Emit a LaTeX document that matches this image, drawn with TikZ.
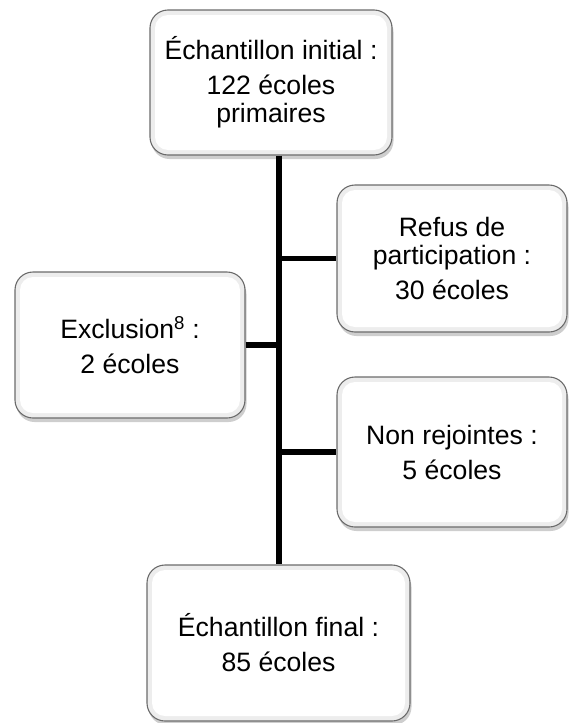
\documentclass[tikz,border=0pt]{standalone}
\usepackage{fontspec}
\setmainfont{Liberation Sans}
\usetikzlibrary{shadows}
\tikzset{
  box/.style={
    draw=black!58, line width=1.1pt, fill=black!7,
    rounded corners=18pt, inner sep=0pt, align=center,
    font=\fontsize{26.6}{28}\selectfont,
    drop shadow={shadow xshift=1.5pt, shadow yshift=-4pt, opacity=0.35, fill=black!55},
    path picture={
      \fill[white, rounded corners=13pt]
        ([shift={(5pt,-5pt)}]path picture bounding box.north west) rectangle
        ([shift={(-5pt,5pt)}]path picture bounding box.south east);
    }
  },
  link/.style={line width=5.5pt, black}
}
\begin{document}
\begin{tikzpicture}[x=1pt, y=-1pt]
\useasboundingbox (0,0) rectangle (569,723);
\coordinate (spine) at (279,0);
\node[box, minimum width=242pt, minimum height=145pt] (top) at (271,82.5)
  {Échantillon initial :\\[7pt] 122 écoles\\ primaires};
\node[box, minimum width=230pt, minimum height=147pt] (refus) at (452,258.5)
  {Refus de\\ participation :\\[7pt] 30 écoles};
\node[box, minimum width=230pt, minimum height=146pt] (excl) at (130,345)
  {Exclusion\textsuperscript{8} :\\[7pt] 2 écoles};
\node[box, minimum width=230pt, minimum height=150pt] (nonrej) at (452,452)
  {Non rejointes :\\[7pt] 5 écoles};
\node[box, minimum width=263pt, minimum height=156pt] (final) at (278.5,643)
  {Échantillon final :\\[7pt] 85 écoles};
\draw[link] (top.south -| spine) -- (final.north -| spine);
\draw[link] (refus.west -| spine) -- (refus.west);
\draw[link] (excl.east) -- (excl.east -| spine);
\draw[link] (nonrej.west -| spine) -- (nonrej.west);
\end{tikzpicture}
\end{document}
